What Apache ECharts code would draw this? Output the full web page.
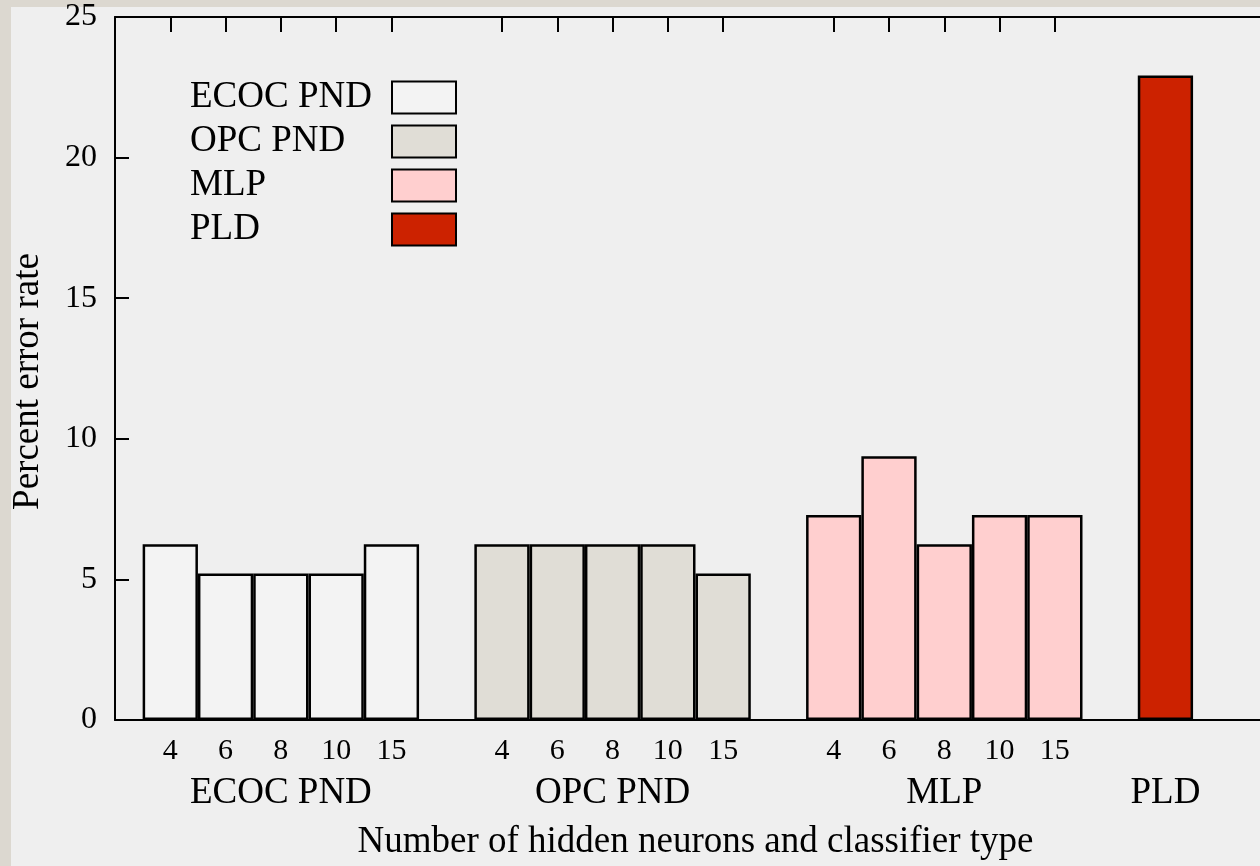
<!DOCTYPE html>
<html>
<head>
<meta charset="utf-8">
<script src="https://cdn.jsdelivr.net/npm/echarts@6/dist/echarts.min.js"></script>
<style>
html,body{margin:0;padding:0;background:#dcd8d0;overflow:hidden;width:1260px;height:866px;}
#chart{width:1280px;height:866px;}
</style>
</head>
<body>
<div id="chart"></div>
<script>
// ---- data ----
const neuronLabels = ['4', '6', '8', '10', '15'];
const groupNames = ['ECOC PND', 'OPC PND', 'MLP', 'PLD'];
const ecocPND = [6.25, 5.21, 5.21, 5.21, 6.25];
const opcPND = [6.25, 6.25, 6.25, 6.25, 5.21];
const mlp = [7.29, 9.38, 6.25, 7.29, 7.29];
const pld = [22.92];
const yTicks = [0, 5, 10, 15, 20, 25];

// ---- build slot layout (one empty slot between groups) ----
const groupValues = [ecocPND, opcPND, mlp, pld];
const nSlots = 22;
const tickCats = new Array(nSlots).fill('');
const groupCats = new Array(nSlots).fill('');
const seriesData = groupValues.map(() => new Array(nSlots).fill(null));
groupValues.forEach((vals, g) => {
  const start = 1 + 6 * g;
  vals.forEach((v, j) => {
    seriesData[g][start + j] = v;
    if (vals.length > 1) tickCats[start + j] = neuronLabels[j];
  });
  groupCats[start + Math.floor((vals.length - 1) / 2)] = groupNames[g];
});

const FONT = "'Liberation Serif', 'Times New Roman', serif";
const fills = ['#f3f3f3', '#e0ddd6', '#ffcfcf', '#cc2200'];

const chart = echarts.init(document.getElementById('chart'), null, {renderer: 'canvas'});
chart.setOption({
  backgroundColor: '#dcd8d0',
  animation: false,
  graphic: [{
    type: 'rect', z: -10, silent: true,
    shape: {x: 11, y: 7, width: 1300, height: 870},
    style: {fill: '#efefef'}
  }],
  legend: {
    orient: 'vertical', left: 190, top: 79, padding: 0,
    align: 'right', icon: 'rect',
    itemWidth: 64, itemHeight: 32, itemGap: 7,
    formatter: name => '{t|' + name + '}',
    textStyle: {
      fontFamily: FONT, fontSize: 37, color: '#000', lineHeight: 32,
      rich: {t: {fontFamily: FONT, fontSize: 37, color: '#000', width: 197, align: 'left', lineHeight: 32}}
    },
    data: groupNames
  },
  grid: {left: 115, top: 17, width: 1161, height: 705, containLabel: false},
  xAxis: [
    {
      type: 'category', position: 'bottom', boundaryGap: false, data: tickCats,
      axisLine: {lineStyle: {color: '#000', width: 2}},
      axisTick: {show: false},
      axisLabel: {interval: 0, fontFamily: FONT, fontSize: 30, color: '#000', margin: 16},
      name: 'Number of hidden neurons and classifier type', nameLocation: 'middle', nameGap: 104,
      nameTextStyle: {fontFamily: FONT, fontSize: 37, color: '#000'}
    },
    {
      type: 'category', position: 'bottom', boundaryGap: false, data: groupCats, offset: 41,
      axisLine: {show: false}, axisTick: {show: false},
      axisLabel: {interval: 0, fontFamily: FONT, fontSize: 37, color: '#000', margin: 14}
    },
    {
      type: 'category', position: 'top', boundaryGap: false, data: tickCats,
      axisLine: {lineStyle: {color: '#000', width: 2}},
      axisTick: {inside: true, length: 15, lineStyle: {color: '#000', width: 2},
        interval: (i, v) => v !== ''},
      axisLabel: {show: false}
    }
  ],
  yAxis: {
    type: 'value', min: yTicks[0], max: yTicks[yTicks.length - 1], interval: 5,
    axisLine: {show: true, lineStyle: {color: '#000', width: 2}},
    axisTick: {show: true, inside: true, length: 14, lineStyle: {color: '#000', width: 2}},
    axisLabel: {fontFamily: FONT, fontSize: 32, color: '#000', margin: 18},
    splitLine: {show: false},
    name: 'Percent error rate', nameLocation: 'middle', nameGap: 68, nameRotate: 90,
    nameTextStyle: {fontFamily: FONT, fontSize: 37, color: '#000', padding: [0, 26, 0, 0]}
  },
  series: groupNames.map((name, g) => ({
    name: name, type: 'bar', xAxisIndex: 0,
    data: seriesData[g], barWidth: '100%', barGap: '-100%',
    itemStyle: {color: fills[g], borderColor: '#000', borderWidth: 2.5}
  }))
});
</script>
</body>
</html>
